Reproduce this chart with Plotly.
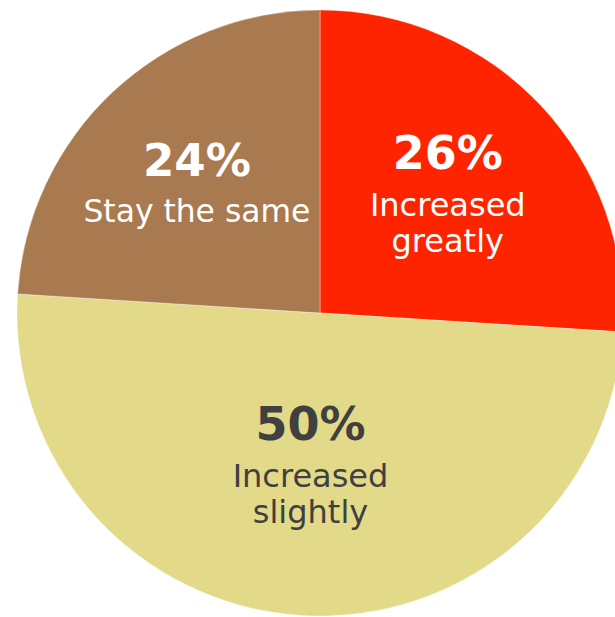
import plotly.graph_objects as go

label_lines = [["Increased", "greatly"], ["Increased", "slightly"], ["Stay the same"]]
labels = [" ".join(l) for l in label_lines]
values = [26, 50, 24]
colors = ["#FF2400", "#E2DA88", "#A97A50"]
text_colors = ["#FFFFFF", "#404040", "#FFFFFF"]

total = sum(values)
texts = []
for v, lines in zip(values, label_lines):
    pct = f"{round(100 * v / total)}%"
    body = "<br>".join(f"<span style='font-size:32px'>{ln}</span>" for ln in lines)
    texts.append(f"<b><span style='font-size:46px;baseline-shift:10px'>{pct}</span></b><br>{body}")

fig = go.Figure(go.Pie(
    labels=labels,
    values=values,
    text=texts,
    textinfo="text",
    sort=False,
    direction="clockwise",
    rotation=0,
    marker=dict(colors=colors, line=dict(color="rgba(255,255,255,0.6)", width=0.6)),
    textposition="inside",
    insidetextorientation="horizontal",
    textfont=dict(family="DejaVu Sans", size=28, color=text_colors),
    hoverinfo="skip",
    showlegend=False,
    domain=dict(x=[17/640, 623/640], y=[1/617, 607/617]),
))

fig.update_layout(
    width=640, height=617,
    margin=dict(l=0, r=0, t=0, b=0),
    paper_bgcolor="white",
    plot_bgcolor="white",
)

fig.write_html(
    "out.html",
    config={"displayModeBar": False},
    post_script="document.body.style.margin='0';document.body.style.overflow='hidden';document.documentElement.style.overflow='hidden';",
)
